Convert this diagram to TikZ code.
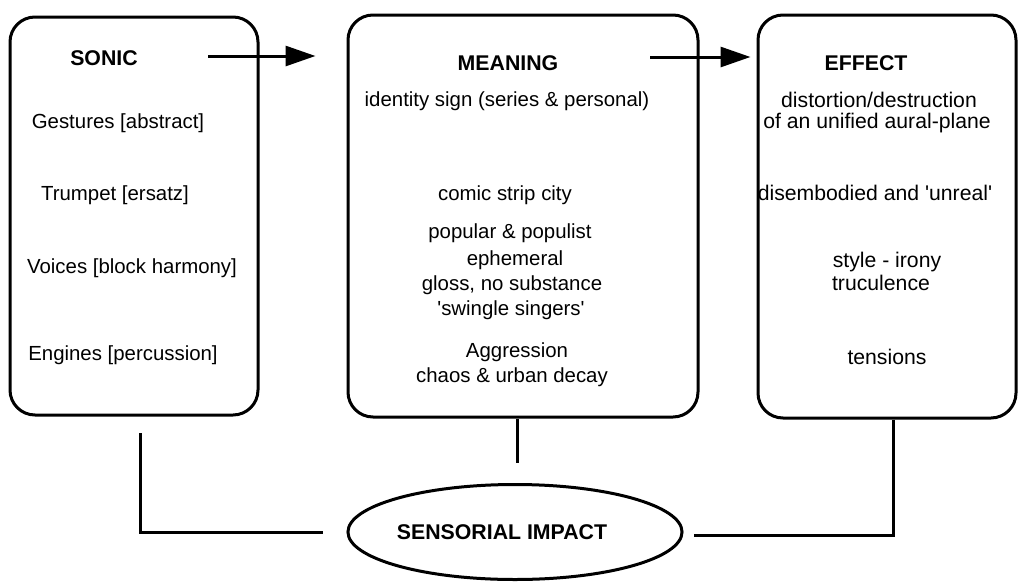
\documentclass[tikz,border=0pt]{standalone}
\usepackage{fontspec}
\setmainfont{Liberation Sans}
\usetikzlibrary{shapes.geometric,arrows.meta}
\begin{document}
\begin{tikzpicture}[x=1pt,y=-1pt,
  box/.style={draw,line width=3pt,rounded corners=25pt,inner sep=0pt},
  conn/.style={line width=3pt},
  arr/.style={line width=3pt,-{Triangle[length=30pt,width=20pt]}},
  head/.style={font=\fontsize{21.3}{24}\selectfont\bfseries,inner sep=0pt},
  txt/.style={font=\fontsize{20.4}{24}\selectfont,inner sep=0pt},
  rtxt/.style={font=\fontsize{21.2}{24}\selectfont,inner sep=0pt},
]
\useasboundingbox (0,0) rectangle (1021,582);
% boxes
\node[box,minimum width=248pt,minimum height=398pt] (L) at (134,216) {};
\node[box,minimum width=350pt,minimum height=402pt] (M) at (523,216) {};
\node[box,minimum width=258pt,minimum height=403pt] (R) at (887,216.5) {};
% left texts
\node[head] (sonic) at (104,58) {SONIC};
\node[txt] (l1) at (118,123) {Gestures [abstract]};
\node[txt] (l2) at (115,195) {Trumpet [ersatz]};
\node[txt] (l3) at (132,268) {Voices [block harmony]};
\node[txt] (l4) at (123,355) {Engines [percussion]};
% middle texts
\node[head] (meaning) at (508,63) {MEANING};
\node[txt] (m1) at (507,101) {identity sign (series \& personal)};
\node[txt] (m2) at (505,195) {comic strip city};
\node[txt] (m3) at (510,233) {popular \& populist};
\node[txt] (m4) at (515,260) {ephemeral};
\node[txt] (m5) at (512,285) {gloss, no substance};
\node[txt] (m6) at (511,310) {\textquotesingle swingle singers\textquotesingle};
\node[txt] (m7) at (517,352) {Aggression};
\node[txt] (m8) at (512,377) {chaos \& urban decay};
% right texts
\node[head] (effect) at (866,63) {EFFECT};
\node[rtxt] (r1) at (879,100) {distortion/destruction};
\node[rtxt] (r2) at (877,123) {of an unified aural-plane};
\node[rtxt] (r3) at (875,193) {disembodied and \textquotesingle unreal\textquotesingle};
\node[rtxt] (r4) at (887,262) {style - irony};
\node[rtxt] (r5) at (881,283) {truculence};
\node[rtxt] (r6) at (887,357) {tensions};
% ellipse
\node[draw,ellipse,line width=3pt,minimum width=324pt,minimum height=95pt,inner sep=0pt,
      font=\fontsize{21.3}{24}\selectfont\bfseries] (imp) at (515,532) {SENSORIAL IMPACT\hspace*{26pt}};
% arrows
\coordinate (a1s) at (208,56);
\coordinate (a2s) at (650,57);
\draw[arr] (a1s) -- ([xshift=-31pt,yshift=160pt]M.west);
\draw[arr] (a2s) -- ([xshift=-6pt,yshift=159.5pt]R.west);
% connectors to the ellipse
\coordinate (lc) at (140,433);
\draw[conn] (lc) |- ([xshift=-23pt]imp.west);
\draw[conn] ([xshift=2pt]imp.north |- M.south) -- ([xshift=2pt,yshift=20pt]imp.north);
\draw[conn] ([xshift=6pt]R.south) |- ([xshift=10pt,yshift=-3pt]imp.east);
\end{tikzpicture}
\end{document}
